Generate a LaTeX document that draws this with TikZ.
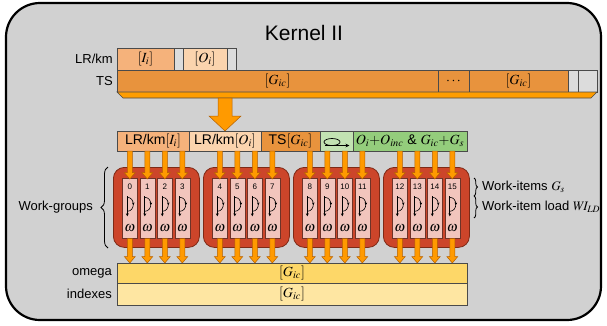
\documentclass[tikz,border=0pt]{standalone}
\usepackage{mathptmx}
\usepackage[no-math]{fontspec}
\setmainfont{Liberation Sans}
\usetikzlibrary{calc, positioning, arrows.meta, decorations.pathreplacing}

\definecolor{framegray}{HTML}{D1D1D1}
\definecolor{cellline}{HTML}{4A4A4A}
\definecolor{lrI}{HTML}{F5B27B}
\definecolor{lrO}{HTML}{FBD4AE}
\definecolor{tsor}{HTML}{E8933D}
\definecolor{barorange}{HTML}{FF9D00}
\definecolor{cellgray}{HTML}{DCDCDC}
\definecolor{loopgreen}{HTML}{C2E2B2}
\definecolor{sumgreen}{HTML}{94CD7C}
\definecolor{wgred}{HTML}{CC452A}
\definecolor{wgedge}{HTML}{7E2A16}
\definecolor{itemfill}{HTML}{F2C5BD}
\definecolor{itemedge}{HTML}{6E3328}
\definecolor{arrfill}{HTML}{FF9A00}
\definecolor{arredge}{HTML}{B45F00}
\definecolor{omy}{HTML}{FDD768}
\definecolor{ixy}{HTML}{FEE6A2}

\tikzset{
  cell/.style={draw=cellline, line width=0.6pt, inner sep=0pt, outer sep=0pt,
    font=\fontsize{14}{14}\selectfont},
  lbl/.style={font=\fontsize{13}{13}\selectfont, inner sep=0pt},
  wgbox/.style={draw=wgedge, fill=wgred, line width=0.8pt, rounded corners=11pt,
    minimum width=86pt, minimum height=80pt},
  itembox/.style={draw=itemedge, fill=itemfill, line width=0.6pt,
    minimum width=15pt, minimum height=60pt},
  fatarr/.style n args={3}{fill=arrfill, draw=arredge, line width=0.5pt,
    to path={let \p1=(\tikztostart), \p2=(\tikztotarget) in
      (\x2-#1,\y1) -- (\x2-#1,\y2+#3) -- (\x2-#2,\y2+#3) -- (\x2,\y2)
      -- (\x2+#2,\y2+#3) -- (\x2+#1,\y2+#3) -- (\x2+#1,\y1) -- cycle}},
  brace/.style={decorate, decoration={brace, amplitude=#1}, line width=0.8pt},
}

\begin{document}
\begin{tikzpicture}[x=1pt, y=-1pt]
  \useasboundingbox (0,0) rectangle (607,325);

  % kernel frame
  \draw[fill=framegray, line width=2.2pt, rounded corners=34pt] (6,3) rectangle (601,320);
  \node[font=\fontsize{21}{21}\selectfont] (title) at (304,33) {Kernel II};

  % LR/km and TS buffers
  \node[cell, fill=lrI, minimum width=57pt, minimum height=22pt, anchor=north west] (ii) at (117,48) {$[I_i]$};
  \node[cell, fill=cellgray, minimum width=9pt, minimum height=22pt, right=0pt of ii] (g1) {};
  \node[cell, fill=lrO, minimum width=44pt, minimum height=22pt, right=0pt of g1] (oi) {$[O_i]$};
  \node[cell, fill=cellgray, minimum width=9pt, minimum height=22pt, right=0pt of oi] (g2) {};

  \node[cell, fill=tsor, minimum width=321pt, minimum height=22pt, anchor=north west] (ts1) at (117,70) {$[G_{ic}]$};
  \node[cell, fill=tsor, minimum width=31pt, minimum height=22pt, right=0pt of ts1] (dots) {$\cdots$};
  \node[cell, fill=tsor, minimum width=99pt, minimum height=22pt, right=0pt of dots] (ts2) {$[G_{ic}]$};
  \node[cell, fill=cellgray, minimum width=10pt, minimum height=22pt, right=0pt of ts2] (g3) {};
  \node[cell, fill=cellgray, minimum width=19pt, minimum height=22pt, right=0pt of g3] (g4) {};

  \node[lbl, left=4pt of ii] (lrlbl) {LR/km};
  \node[lbl, left=4pt of ts1] (tslbl) {TS};

  % flat bar under TS
  \draw[fill=barorange, draw=cellline, line width=0.6pt] (ts1.south west) -- (g4.south east)
    -- ++(-6,6) -- ($(ts1.south west)+(6,6)$) -- cycle;
  \coordinate (barb) at ($(ts1.south west)+(6,6)$);

  % header row
  \node[cell, fill=lrI, minimum width=72pt, minimum height=20pt, anchor=north west] (h1) at (117,131) {LR/km$[I_i]$};
  \node[cell, fill=lrO, minimum width=72pt, minimum height=20pt, right=0pt of h1] (h2) {LR/km$[O_i]$};
  \node[cell, fill=tsor, minimum width=59pt, minimum height=20pt, right=0pt of h2] (h3) {TS$[G_{ic}]$};
  \node[cell, fill=loopgreen, minimum width=33pt, minimum height=20pt, right=0pt of h3] (h4) {};
  \node[cell, fill=sumgreen, minimum width=114pt, minimum height=20pt, right=0pt of h4] (h5)
    {$O_i{+}O_{inc}$ \& $G_{ic}{+}G_s$};
  \draw[line width=0.7pt] ($(h4.center)+(-4.5,1)$) ellipse [x radius=8, y radius=3.5];
  \draw[line width=0.7pt, -{Stealth[length=4pt, width=3.5pt]}] ($(h4.center)+(-12,4.5)$) -- ($(h4.center)+(13,4.5)$);

  \draw[fatarr={7pt}{16pt}{15pt}] (h2.north |- barb) to (h2.north);

  % work-groups and work-items
  \foreach \g in {0,...,3}{
    \node[wgbox, anchor=north west] (wg\g) at ({113+90*\g},167) {};
    \foreach \k in {0,...,3}{
      \pgfmathtruncatemacro\j{4*\g+\k}
      \node[itembox, anchor=north west] (it\j) at ({113+90*\g+9+17.5*\k},178) {};
      \node[font=\fontsize{8}{8}\selectfont, inner sep=0pt] (num\j) at ($(it\j.north)+(0,9)$) {\j};
      \node[font=\fontsize{14}{14}\selectfont, inner sep=0pt] (w\j) at ($(it\j.south)+(0,-10)$) {$\omega$};
      \draw[line width=0.7pt, -{Stealth[length=3pt, width=3pt]}] ($(it\j.center)+(-2.5,-12)$) -- ++(0,20);
      \draw[line width=0.6pt] ($(it\j.center)+(-2.5,-11)$) .. controls +(8,0) and +(8,0) .. ($(it\j.center)+(-2.5,3)$);
      \draw[line width=0.5pt, -{Stealth[length=2.5pt, width=2.5pt]}] ($(it\j.center)+(3.5,-4.5)$) -- ++(0,1.2);
    }
  }

  % omega and indexes
  \node[cell, fill=omy, minimum width=350pt, minimum height=20pt, anchor=north west] (om) at (117,263) {$[G_{ic}]$};
  \node[cell, fill=ixy, minimum width=350pt, minimum height=22pt, below=0pt of om] (ix) {$[G_{ic}]$};
  \node[lbl, left=5pt of om] (omlbl) {omega};
  \node[lbl, left=5pt of ix] (ixlbl) {indexes};

  % arrows into and out of the work-items
  \foreach \j in {0,...,15}{
    \coordinate (top\j) at ($(it\j.north)+(0,1)$);
    \draw[fatarr={2.5pt}{5.5pt}{6.5pt}] (it\j.north |- h1.south) to (top\j);
    \draw[fatarr={2.5pt}{5.5pt}{6.5pt}] (it\j.south) to (it\j.south |- om.north);
  }

  % braces
  \draw[brace=7pt] (108,248) -- (108,167);
  \node[lbl, anchor=east] (wglbl) at (93,207.5) {Work-groups};
  \draw[brace=3.5pt] (474,178) -- (474,196);
  \draw[brace=3.5pt] (474,196) -- (474,218);
  \node[lbl, anchor=west] (wilbl) at (482,187) {Work-items $G_s$};
  \node[lbl, anchor=west] (ldlbl) at (482,207) {Work-item load $W\!I_{LD}$};
\end{tikzpicture}
\end{document}
